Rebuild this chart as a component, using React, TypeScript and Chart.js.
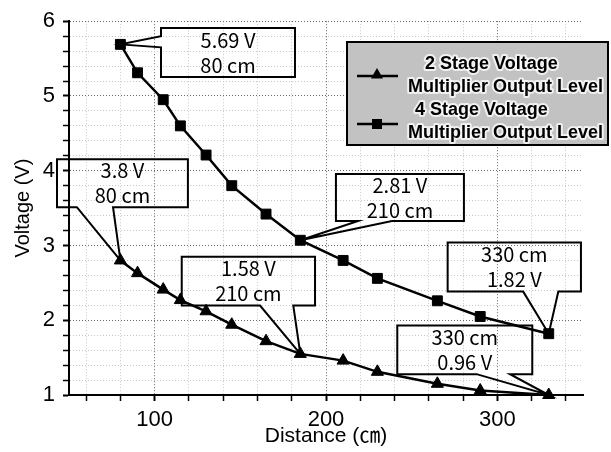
import React, { useEffect, useRef } from 'react';
import { Chart, registerables } from 'chart.js';

Chart.register(...registerables);

// ---- data ----
const DISTANCE_CM = [80, 90, 105, 115, 130, 145, 165, 185, 210, 230, 265, 290, 330];
const STAGE2_V = [2.8, 2.63, 2.41, 2.27, 2.12, 1.94, 1.72, 1.55, 1.46, 1.31, 1.15, 1.06, 1.0];
const STAGE4_V = [5.69, 5.31, 4.95, 4.6, 4.21, 3.8, 3.42, 3.07, 2.8, 2.56, 2.26, 2.05, 1.82];
const SERIES_LABELS = [
  ['2 Stage Voltage', 'Multiplier Output Level'],
  ['4 Stage Voltage', 'Multiplier Output Level'],
];
const X_TICKS = [60, 80, 100, 120, 140, 160, 180, 200, 220, 240, 260, 280, 300, 320, 340];
const X_LABELED = [100, 200, 300];
const Y_TICKS = [1, 1.2, 1.4, 1.6, 1.8, 2, 2.2, 2.4, 2.6, 2.8, 3, 3.2, 3.4, 3.6, 3.8, 4, 4.2, 4.4, 4.6, 4.8, 5, 5.2, 5.4, 5.6, 5.8, 6];
const Y_LABELED = [1, 2, 3, 4, 5, 6];
const CALLOUT_TEXT = [
  ['5.69 V', '80 cm'],
  ['3.8 V', '80 cm'],
  ['2.81 V', '210 cm'],
  ['1.58 V', '210 cm'],
  ['330 cm', '1.82 V'],
  ['330 cm', '0.96 V'],
];
// [datasetIndex, pointIndex] each callout points at
const CALLOUT_TARGET = [[1, 0], [0, 0], [1, 7], [0, 7], [1, 12], [0, 12]];

// ---- layout of callout boxes (in axis units) ----
const CALLOUT_BOX = [
  { x0: 103.7, x1: 181.9, y0: 5.255, y1: 5.91, side: 'left', t0: 5.8, t1: 5.65 },
  { x0: 43.0, x1: 119.4, y0: 3.513, y1: 4.152, side: 'bottom', t0: 54.6, t1: 75.7 },
  { x0: 205.8, x1: 280.5, y0: 3.327, y1: 3.956, side: 'bottom', t0: 218.7, t1: 238.5 },
  { x0: 115.8, x1: 193.6, y0: 2.197, y1: 2.848, side: 'bottom', t0: 161.5, t1: 180.9 },
  { x0: 271.0, x1: 348.8, y0: 2.383, y1: 3.039, side: 'bottom', t0: 315.1, t1: 335.6 },
  { x0: 241.6, x1: 320.4, y0: 1.279, y1: 1.931, side: 'bottom', t0: 287.9, t1: 307.4 },
];

const SANS = '"Liberation Sans", Arial, "Noto Sans CJK KR", sans-serif';
const CALLOUT_FONT = '20px "Noto Sans CJK KR", "Noto Sans", sans-serif';

function drawTriangle(ctx: CanvasRenderingContext2D, x: number, y: number, r: number) {
  ctx.beginPath();
  ctx.moveTo(x, y - r);
  ctx.lineTo(x + r * Math.sin(Math.PI / 3), y + r * 0.5);
  ctx.lineTo(x - r * Math.sin(Math.PI / 3), y + r * 0.5);
  ctx.closePath();
  ctx.fill();
}

const calloutPlugin = {
  id: 'callouts',
  afterDatasetsDraw(chart: any) {
    const ctx: CanvasRenderingContext2D = chart.ctx;
    const xs = chart.scales.x;
    const ys = chart.scales.y;
    ctx.save();
    ctx.strokeStyle = '#000';
    ctx.lineWidth = 2;
    ctx.lineJoin = 'miter';
    CALLOUT_BOX.forEach((b, i) => {
      const [di, pi] = CALLOUT_TARGET[i];
      const el = chart.getDatasetMeta(di).data[pi];
      const ax = el.x;
      const ay = el.y;
      const L = xs.getPixelForValue(b.x0);
      const R = xs.getPixelForValue(b.x1);
      const T = ys.getPixelForValue(b.y1);
      const B = ys.getPixelForValue(b.y0);
      ctx.beginPath();
      if (b.side === 'bottom') {
        const ta = xs.getPixelForValue(b.t0);
        const tb = xs.getPixelForValue(b.t1);
        ctx.moveTo(L, T);
        ctx.lineTo(R, T);
        ctx.lineTo(R, B);
        ctx.lineTo(tb, B);
        ctx.lineTo(ax, ay);
        ctx.lineTo(ta, B);
        ctx.lineTo(L, B);
      } else {
        const ta = ys.getPixelForValue(b.t0);
        const tb = ys.getPixelForValue(b.t1);
        ctx.moveTo(L, T);
        ctx.lineTo(R, T);
        ctx.lineTo(R, B);
        ctx.lineTo(L, B);
        ctx.lineTo(L, tb);
        ctx.lineTo(ax, ay);
        ctx.lineTo(L, ta);
      }
      ctx.closePath();
      ctx.stroke();
      ctx.fillStyle = '#000';
      ctx.font = CALLOUT_FONT;
      ctx.textAlign = 'center';
      ctx.textBaseline = 'middle';
      const cx = (L + R) / 2;
      const cy = (T + B) / 2;
      const lines = CALLOUT_TEXT[i];
      ctx.fillText(lines[0], cx, cy - 12.5);
      ctx.fillText(lines[1], cx, cy + 12.5);
    });
    ctx.restore();
  },
  afterDraw(chart: any) {
    const ctx: CanvasRenderingContext2D = chart.ctx;
    ctx.save();
    // legend box
    const lx = 347, ly = 42, lw = 261, lh = 103;
    ctx.fillStyle = '#c2c2c2';
    ctx.fillRect(lx, ly, lw, lh);
    ctx.strokeStyle = '#000';
    ctx.lineWidth = 2;
    ctx.strokeRect(lx, ly, lw, lh);
    const symY = [76, 124];
    const textY = [[64, 87], [110, 133]];
    const textX = [[425, 408], [415, 408]];
    ctx.font = 'bold 18px ' + SANS;
    ctx.textAlign = 'left';
    ctx.textBaseline = 'middle';
    SERIES_LABELS.forEach((lines, i) => {
      ctx.strokeStyle = '#000';
      ctx.lineWidth = 2.5;
      ctx.beginPath();
      ctx.moveTo(357, symY[i]);
      ctx.lineTo(398, symY[i]);
      ctx.stroke();
      ctx.fillStyle = '#000';
      if (i === 0) drawTriangle(ctx, 377, symY[i] - 1, 7);
      else ctx.fillRect(372, symY[i] - 5, 10, 10);
      lines.forEach((t, j) => {
        ctx.strokeStyle = 'rgba(255,255,255,0.75)';
        ctx.lineWidth = 4;
        ctx.lineJoin = 'round';
        ctx.strokeText(t, textX[i][j], textY[i][j]);
        ctx.fillStyle = '#000';
        ctx.fillText(t, textX[i][j], textY[i][j]);
      });
    });
    ctx.restore();
  },
};

export default function App() {
  const canvasRef = useRef<HTMLCanvasElement | null>(null);

  useEffect(() => {
    document.body.style.margin = '0';
    const canvas = canvasRef.current;
    if (!canvas) return;
    const chart = new Chart(canvas, {
      type: 'line',
      data: {
        datasets: [
          {
            label: SERIES_LABELS[0].join(' '),
            data: DISTANCE_CM.map((x, i) => ({ x, y: STAGE2_V[i] })),
            borderColor: '#000',
            backgroundColor: '#000',
            borderWidth: 2.5,
            pointStyle: 'triangle',
            pointRadius: 7,
            pointBorderWidth: 1,
            tension: 0,
            clip: false,
          },
          {
            label: SERIES_LABELS[1].join(' '),
            data: DISTANCE_CM.map((x, i) => ({ x, y: STAGE4_V[i] })),
            borderColor: '#000',
            backgroundColor: '#000',
            borderWidth: 2.5,
            pointStyle: 'rect',
            pointRadius: 7,
            pointBorderWidth: 1,
            tension: 0,
            clip: false,
          },
        ],
      },
      options: {
        responsive: false,
        animation: false,
        layout: { padding: { left: 0, right: 28, top: 19, bottom: 0 } },
        plugins: { legend: { display: false }, tooltip: { enabled: false } },
        scales: {
          x: {
            type: 'linear',
            min: 50,
            max: 350,
            afterBuildTicks: (s: any) => {
              s.ticks = X_TICKS.map((v) => ({ value: v }));
            },
            afterFit: (s: any) => {
              s.height = 57;
            },
            ticks: {
              autoSkip: false,
              maxRotation: 0,
              color: '#000',
              padding: 6,
              font: { family: SANS, size: 22 },
              callback: (v: any) => (X_LABELED.includes(Number(v)) ? String(v) : ''),
            },
            grid: {
              color: (c: any) => (c.tick && X_LABELED.includes(c.tick.value) ? '#666' : '#c8c8c8'),
              lineWidth: 1,
              tickLength: 6,
              tickColor: '#000',
              tickWidth: (c: any) => (c.tick && X_LABELED.includes(c.tick.value) ? 2 : 1.5),
            },
            border: { display: true, color: '#000', width: 2, dash: [1, 2] },
            title: {
              display: true,
              text: 'Distance (㎝)',
              color: '#000',
              font: { family: SANS, size: 21 },
              padding: { top: 0, bottom: 3 },
            },
          },
          y: {
            type: 'linear',
            min: 1,
            max: 6,
            afterBuildTicks: (s: any) => {
              s.ticks = Y_TICKS.map((v) => ({ value: v }));
            },
            afterFit: (s: any) => {
              s.width = 69;
            },
            ticks: {
              autoSkip: false,
              color: '#000',
              padding: 8,
              font: { family: SANS, size: 22 },
              callback: (v: any) => (Y_LABELED.includes(Number(v)) ? String(v) : ''),
            },
            grid: {
              color: (c: any) => (c.tick && Y_LABELED.includes(c.tick.value) ? '#666' : '#c8c8c8'),
              lineWidth: 1,
              tickLength: 6,
              tickColor: '#000',
              tickWidth: (c: any) => (c.tick && Y_LABELED.includes(c.tick.value) ? 2 : 1.5),
            },
            border: { display: true, color: '#000', width: 2, dash: [1, 2] },
            title: {
              display: true,
              text: 'Voltage (V)',
              color: '#000',
              font: { family: SANS, size: 20 },
              padding: { top: 11, bottom: 0 },
            },
          },
        },
      },
      plugins: [calloutPlugin],
    } as any);
    return () => chart.destroy();
  }, []);

  return (
    <div style={{ width: 611, height: 452, background: '#fff' }}>
      <canvas ref={canvasRef} width={611} height={452} />
    </div>
  );
}
